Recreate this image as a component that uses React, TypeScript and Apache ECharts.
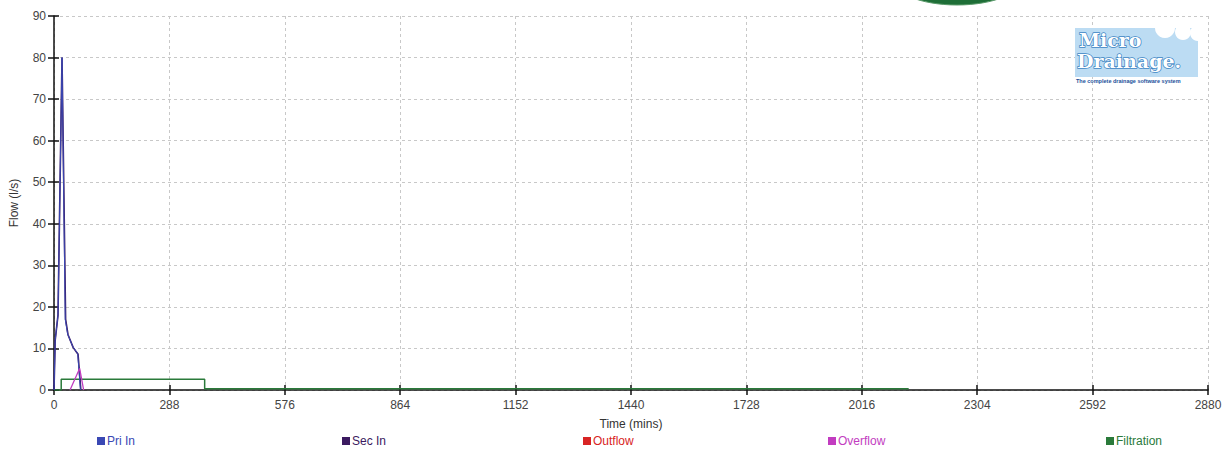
import React, { useEffect, useRef } from "react";
import * as echarts from "echarts";

const xTicks = [0, 288, 576, 864, 1152, 1440, 1728, 2016, 2304, 2592, 2880];
const yTicks = [0, 10, 20, 30, 40, 50, 60, 70, 80, 90];

// [time (mins), flow (l/s)]
const priIn = [[0, 0], [3, 12], [10, 18], [20, 80], [28, 17], [34, 13.5], [47, 10.4], [59, 8.8], [66, 0]];
const secIn = [[0, 0], [3, 12], [10, 18], [20, 80], [29, 17], [35, 13.3], [48, 10.2], [60, 8.6], [67, 0]];
const outflow: number[][] = [];
const overflow = [[40, 0], [64, 5.2], [74, 0]];
const filtration = [[0, 0], [18, 0], [18, 2.6], [376, 2.6], [376, 0.3], [2133, 0.3]];

const seriesNames = ["Pri In", "Sec In", "Outflow", "Overflow", "Filtration"];
const seriesColors = ["#3a48b4", "#3b1a60", "#d82424", "#c23cc0", "#2a7a3a"];
const seriesZ = [4, 3, 2, 5, 2];
const legendLefts = [97, 342, 583, 828, 1106];

export default function App() {
  const ref = useRef<HTMLDivElement>(null);
  useEffect(() => {
    document.body.style.margin = "0";
    if (!ref.current) return;
    const chart = echarts.init(ref.current, undefined, { renderer: "svg" });
    const font = "Liberation Sans, Arial, sans-serif";
    const dataSets = [priIn, secIn, outflow, overflow, filtration];
    const axisCommonX = {
      type: "value",
      min: xTicks[0],
      max: xTicks[xTicks.length - 1],
      interval: 288,
    };
    const axisCommonY = {
      type: "value",
      min: yTicks[0],
      max: yTicks[yTicks.length - 1],
      interval: 10,
    };
    chart.setOption({
      animation: false,
      backgroundColor: "#ffffff",
      grid: { left: 54, right: 23, top: 16, bottom: 60, containLabel: false },
      xAxis: [
        {
          ...axisCommonX,
          position: "bottom",
          name: "Time (mins)",
          nameLocation: "middle",
          nameGap: 28,
          nameTextStyle: { color: "#333", fontFamily: font, fontSize: 12 },
          axisLine: { show: true, lineStyle: { color: "#111", width: 1.5 } },
          axisTick: { show: true, inside: false, length: 5, lineStyle: { color: "#111", width: 1.5 } },
          axisLabel: {
            color: "#444",
            fontFamily: font,
            fontSize: 12,
            margin: 9,
            formatter: (v: number) => String(v),
          },
          splitLine: { show: true, lineStyle: { color: "#c8c8c8", type: [3, 3], width: 1 } },
        },
        {
          ...axisCommonX,
          position: "bottom",
          axisLine: { show: false },
          axisTick: { show: true, inside: true, length: 5, lineStyle: { color: "#111", width: 1.5 } },
          axisLabel: { show: false },
          splitLine: { show: false },
        },
      ],
      yAxis: [
        {
          ...axisCommonY,
          position: "left",
          name: "Flow (l/s)",
          nameLocation: "middle",
          nameGap: 34,
          nameRotate: 90,
          nameTextStyle: { color: "#333", fontFamily: font, fontSize: 12 },
          axisLine: { show: true, lineStyle: { color: "#111", width: 1.5 } },
          axisTick: { show: true, inside: false, length: 6, lineStyle: { color: "#111", width: 1.5 } },
          axisLabel: { color: "#444", fontFamily: font, fontSize: 12, margin: 8 },
          splitLine: { show: true, lineStyle: { color: "#c8c8c8", type: [3, 3], width: 1 } },
        },
        {
          ...axisCommonY,
          position: "left",
          axisLine: { show: false },
          axisTick: { show: true, inside: true, length: 5, lineStyle: { color: "#111", width: 1.5 } },
          axisLabel: { show: false },
          splitLine: { show: false },
        },
      ],
      legend: seriesNames.map((n, i) => ({
        data: [n],
        left: legendLefts[i],
        top: 435,
        icon: "rect",
        itemWidth: 8,
        itemHeight: 8,
        itemGap: 3,
        padding: 0,
        selectedMode: false,
        textStyle: { color: seriesColors[i], fontFamily: font, fontSize: 12, padding: [0, 0, 0, -3] },
      })),
      series: seriesNames.map((n, i) => ({
        name: n,
        type: "line",
        xAxisIndex: 0,
        yAxisIndex: 0,
        data: dataSets[i],
        showSymbol: false,
        symbol: "none",
        color: seriesColors[i],
        lineStyle: { width: i === 4 ? 1.5 : i === 1 ? 1.6 : i === 3 ? 1.3 : 1, color: seriesColors[i] },
        z: seriesZ[i],
      })),
      graphic: [
        {
          type: "ellipse",
          shape: { cx: 957, cy: -22, rx: 66, ry: 27 },
          style: { fill: "#1e6e37", stroke: "#5a9a6a", lineWidth: 1 },
          z: 10,
        },
        {
          type: "rect",
          shape: { x: 1075, y: 28, width: 123, height: 49 },
          style: { fill: "#bcdcf3" },
          z: 10,
        },
        {
          type: "circle",
          shape: { cx: 1165, cy: 28, r: 10 },
          style: { fill: "#ffffff" },
          z: 11,
        },
        {
          type: "circle",
          shape: { cx: 1183, cy: 32, r: 8 },
          style: { fill: "#ffffff" },
          z: 11,
        },
        {
          type: "circle",
          shape: { cx: 1198, cy: 33, r: 8 },
          style: { fill: "#ffffff" },
          z: 11,
        },
        {
          type: "text",
          x: 1079,
          y: 30,
          style: {
            text: "Micro",
            fontFamily: "DejaVu Serif, serif",
            fontWeight: "bold",
            fontSize: 19,
            fill: "#ffffff",
            stroke: "#3f86c4",
            lineWidth: 1.5,
          },
          z: 12,
        },
        {
          type: "text",
          x: 1077,
          y: 51,
          style: {
            text: "Drainage.",
            fontFamily: "DejaVu Serif, serif",
            fontWeight: "bold",
            fontSize: 19,
            fill: "#ffffff",
            stroke: "#3f86c4",
            lineWidth: 1.5,
          },
          z: 12,
        },
        {
          type: "text",
          x: 1076,
          y: 78,
          style: {
            text: "The complete drainage software system",
            fontFamily: font,
            fontWeight: "bold",
            fontSize: 5.5,
            fill: "#1a4f9a",
          },
          z: 12,
        },
      ],
    });
    return () => chart.dispose();
  }, []);
  return <div ref={ref} style={{ width: 1231, height: 450 }} />;
}
